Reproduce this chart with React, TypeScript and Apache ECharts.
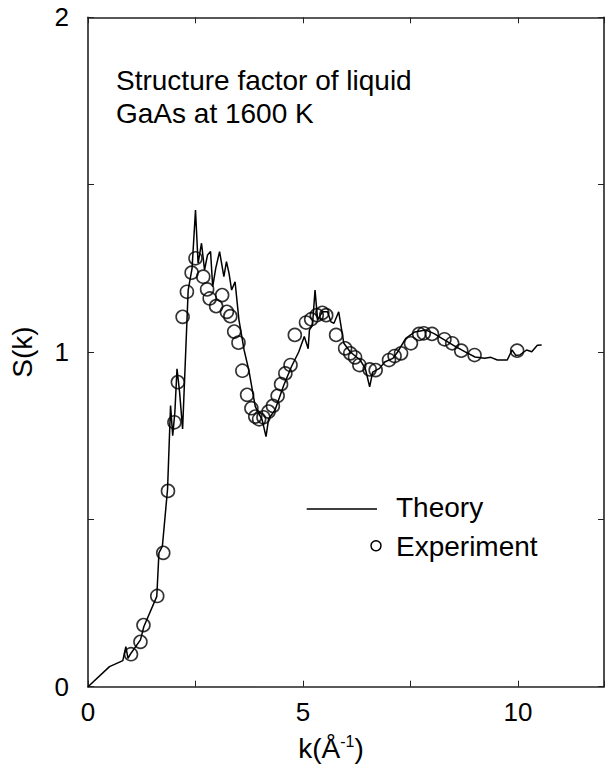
import React, { useEffect, useRef } from "react";
import * as echarts from "echarts";

// Theory curve S(k), k in 1/Å
const theoryK = [
  0, 0.5, 0.81, 0.88, 0.93, 1.0, 1.22, 1.3, 1.6, 1.65, 1.73, 1.85, 1.92, 1.97,
  2.02, 2.07, 2.13, 2.2, 2.33, 2.42, 2.5, 2.56, 2.64, 2.71, 2.78, 2.85, 2.9,
  2.97, 3.06, 3.16, 3.22, 3.28, 3.34, 3.42, 3.51, 3.63, 3.74, 3.89, 4.05, 4.14,
  4.2, 4.35, 4.55, 4.73, 4.9, 5.03, 5.12, 5.15, 5.22, 5.28, 5.34, 5.45, 5.57,
  5.65, 5.72, 5.83, 5.95, 6.1, 6.33, 6.45, 6.55, 6.62, 6.78, 6.9, 7.09, 7.2,
  7.39, 7.6, 7.85, 8.05, 8.23, 8.5, 8.76, 9.0, 9.22, 9.37, 9.52, 9.75, 9.86,
  9.95, 10.04, 10.2, 10.32, 10.45, 10.55,
];
const theoryS = [
  0, 0.06, 0.078, 0.12, 0.085, 0.1, 0.14, 0.18, 0.27, 0.4, 0.42, 0.59, 0.84,
  0.75, 0.82, 0.95, 0.88, 0.77, 1.185, 1.25, 1.424, 1.265, 1.325, 1.245, 1.29,
  1.3, 1.195, 1.25, 1.3, 1.225, 1.27, 1.235, 1.185, 1.21, 1.096, 1.006, 0.946,
  0.837, 0.797, 0.747, 0.8, 0.827, 0.9, 0.956, 1.0, 1.046, 1.01, 1.066, 1.08,
  1.185, 1.096, 1.12, 1.12, 1.09, 1.086, 1.12, 1.026, 1.0, 0.976, 0.95, 0.896,
  0.94, 0.951, 0.97, 0.981, 1.0, 1.041, 1.06, 1.066, 1.055, 1.041, 1.02, 1.001,
  0.985, 0.981, 0.984, 0.976, 0.976, 1.006, 0.99, 0.991, 1.006, 1.001, 1.02,
  1.021,
];

// Measured S(k)
const expK = [
  1.0, 1.22, 1.29, 1.61, 1.75, 1.86, 2.01, 2.09, 2.2, 2.3, 2.41, 2.5, 2.68,
  2.77, 2.83, 2.98, 3.12, 3.23, 3.31, 3.4, 3.5, 3.59, 3.7, 3.8, 3.89, 3.98,
  4.08, 4.2, 4.3, 4.41, 4.49, 4.59, 4.71, 4.81, 5.07, 5.19, 5.32, 5.45, 5.54,
  5.77, 5.98, 6.1, 6.21, 6.31, 6.55, 6.69, 7.0, 7.13, 7.28, 7.51, 7.7, 7.81,
  8.0, 8.29, 8.47, 8.68, 8.99, 9.98,
];
const expS = [
  0.097, 0.134, 0.184, 0.271, 0.4, 0.585, 0.79, 0.91, 1.105, 1.18, 1.237, 1.28,
  1.225, 1.187, 1.16, 1.137, 1.17, 1.12, 1.107, 1.061, 1.028, 0.944, 0.872,
  0.832, 0.807, 0.799, 0.805, 0.822, 0.839, 0.869, 0.904, 0.936, 0.961, 1.051,
  1.088, 1.098, 1.11, 1.117, 1.11, 1.051, 1.011, 0.996, 0.984, 0.961, 0.948,
  0.946, 0.976, 0.988, 0.996, 1.026, 1.054, 1.056, 1.054, 1.038, 1.026, 1.004,
  0.991, 1.004,
];

const xLabelValues = [0, 5, 10];
const yLabelValues = [0, 1, 2];
const titleLines = ["Structure factor of liquid", "GaAs at 1600 K"];
const legendNames = ["Theory", "Experiment"];

const FONT = "'Liberation Sans', Arial, Helvetica, sans-serif";
const AXIS_COLOR = "#222";

export default function App() {
  const ref = useRef<HTMLDivElement>(null);

  useEffect(() => {
    if (!ref.current) return;
    const chart = echarts.init(ref.current, null, { renderer: "svg" });

    const axisLineStyle = { lineStyle: { color: AXIS_COLOR, width: 1.6 } };
    const tickStyle = {
      show: true,
      inside: true,
      length: 6,
      lineStyle: { color: AXIS_COLOR, width: 1 },
    };

    const xAxisBase = {
      type: "value" as const,
      min: 0,
      max: 12,
      interval: 2.5,
      splitLine: { show: false },
      axisLine: { show: true, onZero: false, ...axisLineStyle },
      axisTick: tickStyle,
    };
    const yAxisBase = {
      type: "value" as const,
      min: 0,
      max: 2,
      interval: 0.5,
      splitLine: { show: false },
      axisLine: { show: true, onZero: false, ...axisLineStyle },
      axisTick: tickStyle,
    };

    chart.setOption({
      animation: false,
      backgroundColor: "#fff",
      grid: { left: 82.7, top: 17.3, width: 526, height: 669.4 },
      xAxis: [
        {
          ...xAxisBase,
          position: "bottom",
          axisLabel: {
            margin: 12,
            fontSize: 26,
            fontFamily: FONT,
            color: "#000",
            formatter: (v: number) =>
              xLabelValues.includes(v) ? String(v) : "",
          },
        },
        { ...xAxisBase, position: "top", axisLabel: { show: false } },
      ],
      yAxis: [
        {
          ...yAxisBase,
          position: "left",
          name: "S(k)",
          nameLocation: "middle",
          nameGap: 52,
          nameTextStyle: { fontSize: 28, fontFamily: FONT, color: "#000" },
          axisLabel: {
            margin: 19,
            fontSize: 26,
            fontFamily: FONT,
            color: "#000",
            formatter: (v: number) =>
              yLabelValues.includes(v) ? String(v) : "",
          },
        },
        { ...yAxisBase, position: "right", axisLabel: { show: false } },
      ],
      series: [
        {
          name: legendNames[0],
          type: "line",
          data: theoryK.map((k, i) => [k, theoryS[i]]),
          showSymbol: false,
          lineStyle: { color: "#000", width: 1.5 },
          z: 2,
        },
        {
          name: legendNames[1],
          type: "scatter",
          data: expK.map((k, i) => [k, expS[i]]),
          symbol: "circle",
          symbolSize: 13,
          itemStyle: {
            color: "rgba(0,0,0,0)",
            borderColor: "#000",
            borderWidth: 1.6,
          },
          z: 3,
        },
      ],
      graphic: [
        {
          type: "text",
          left: 116,
          top: 64,
          style: {
            text: titleLines.join("\n"),
            font: `28px ${FONT}`,
            lineHeight: 33,
            fill: "#000",
          },
        },
        {
          type: "line",
          shape: { x1: 306.7, y1: 509, x2: 377, y2: 509 },
          style: { stroke: "#000", lineWidth: 1.5 },
        },
        {
          type: "text",
          x: 396,
          y: 507,
          style: {
            text: legendNames[0],
            font: `28px ${FONT}`,
            fill: "#000",
            verticalAlign: "middle",
          },
        },
        {
          type: "circle",
          shape: { cx: 376, cy: 545.7, r: 5 },
          style: { fill: "none", stroke: "#000", lineWidth: 1.5 },
        },
        {
          type: "text",
          x: 396,
          y: 546,
          style: {
            text: legendNames[1],
            font: `28px ${FONT}`,
            fill: "#000",
            verticalAlign: "middle",
          },
        },
        {
          type: "text",
          x: 331,
          y: 748,
          style: {
            text: "{a|k(Å}{s|-1}{a|)}",
            align: "center",
            verticalAlign: "middle",
            fill: "#000",
            rich: {
              a: { fontSize: 28, fontFamily: FONT, lineHeight: 30 },
              s: {
                fontSize: 16,
                fontFamily: FONT,
                verticalAlign: "top",
                lineHeight: 30,
              },
            },
          },
        },
      ],
    });

    return () => chart.dispose();
  }, []);

  return (
    <div
      ref={ref}
      style={{ position: "absolute", left: 0, top: 0, width: 607, height: 771 }}
    />
  );
}
